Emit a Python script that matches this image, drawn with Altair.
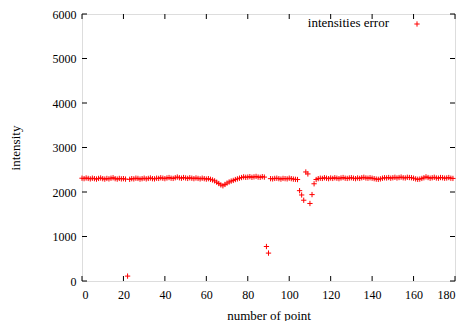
import altair as alt
import pandas as pd

# number of point 0..179 and the intensity
intensity = [
    2310, 2300, 2315, 2305, 2295, 2310, 2300, 2290, 2305, 2315,
    2300, 2290, 2305, 2295, 2310, 2320, 2300, 2290, 2305, 2295,
    2300, 2290, 110, 2285, 2300, 2295, 2310, 2305, 2290, 2300,
    2310, 2295, 2305, 2315, 2300, 2295, 2310, 2305, 2320, 2310,
    2300, 2315, 2325, 2310, 2305, 2320, 2335, 2320, 2310, 2325,
    2315, 2305, 2320, 2310, 2300, 2315, 2305, 2295, 2310, 2300,
    2290, 2300, 2285, 2270, 2250, 2220, 2190, 2160, 2140, 2170,
    2200, 2225, 2245, 2260, 2280, 2295, 2310, 2325, 2340, 2330,
    2335, 2345, 2330, 2340, 2350, 2335, 2330, 2345, 2335, 775,
    627, 2300, 2295, 2305, 2310, 2300, 2290, 2305, 2300, 2295,
    2310, 2300, 2290, 2285, 2280, 2030, 1933, 1815, 2450, 2406,
    1742, 1942, 2185, 2280, 2300, 2310, 2305, 2320, 2310, 2300,
    2315, 2305, 2320, 2310, 2300, 2315, 2325, 2310, 2305, 2315,
    2320, 2310, 2300, 2315, 2305, 2320, 2330, 2315, 2310, 2320,
    2310, 2300, 2290, 2285, 2295, 2310, 2320, 2315, 2325, 2310,
    2320, 2330, 2315, 2325, 2335, 2320, 2315, 2330, 2325, 2320,
    2310, 2295, 2285, 2290, 2305, 2320, 2340, 2325, 2310, 2320,
    2330, 2315, 2310, 2325, 2320, 2310, 2315, 2325, 2310, 2305,
]
points_x = list(range(len(intensity)))
x_ticks = [0, 20, 40, 60, 80, 100, 120, 140, 160, 180]
y_ticks = [0, 1000, 2000, 3000, 4000, 5000, 6000]
legend_label = ["intensities error"]

W, H = 373, 267
TICK = 5
FONT = "Liberation Serif"
PLUS = "M-1,0L1,0M0,-1L0,1"

df = pd.DataFrame({"point": points_x, "intensity": intensity})
xt = pd.DataFrame({"v": x_ticks})
yt = pd.DataFrame({"v": y_ticks})
lg = pd.DataFrame({"label": legend_label})

xscale = alt.Scale(domain=[0, 180], nice=False, zero=False)
yscale = alt.Scale(domain=[0, 6000], nice=False)

pts = alt.Chart(df).mark_point(
    shape=PLUS, filled=False, color="#ff0000", size=28, strokeWidth=1, opacity=1
).encode(
    x=alt.X("point:Q", scale=xscale,
            axis=alt.Axis(values=x_ticks, ticks=False, domain=False, grid=False, format="d",
                          title="number of point", labelPadding=8, titlePadding=9,
                          labelFontSize=12, titleFontSize=13, labelFont=FONT, titleFont=FONT,
                          labelColor="#000", titleColor="#000", titleFontWeight="normal")),
    y=alt.Y("intensity:Q", scale=yscale,
            axis=alt.Axis(values=y_ticks, ticks=False, domain=False, grid=False, format="d",
                          title="intensity", labelPadding=6, titlePadding=30,
                          labelFontSize=12, titleFontSize=13, labelFont=FONT, titleFont=FONT,
                          labelColor="#000", titleColor="#000", titleFontWeight="normal")),
)

tick_bottom = alt.Chart(xt).mark_rule(color="black", strokeWidth=1).encode(
    x=alt.X("v:Q", scale=xscale), y=alt.value(H), y2=alt.value(H - TICK))
tick_top = alt.Chart(xt).mark_rule(color="black", strokeWidth=1).encode(
    x=alt.X("v:Q", scale=xscale), y=alt.value(0), y2=alt.value(TICK))
tick_left = alt.Chart(yt).mark_rule(color="black", strokeWidth=1).encode(
    y=alt.Y("v:Q", scale=yscale), x=alt.value(0), x2=alt.value(TICK))
tick_right = alt.Chart(yt).mark_rule(color="black", strokeWidth=1).encode(
    y=alt.Y("v:Q", scale=yscale), x=alt.value(W), x2=alt.value(W - TICK))

leg_text = alt.Chart(lg).mark_text(
    align="right", baseline="middle", font=FONT, fontSize=13, color="black"
).encode(text="label:N", x=alt.value(307), y=alt.value(9))
leg_pt = alt.Chart(lg).mark_point(
    shape=PLUS, filled=False, color="#ff0000", size=28, strokeWidth=1, opacity=1
).encode(x=alt.value(335), y=alt.value(10))

chart = alt.layer(tick_bottom, tick_top, tick_left, tick_right, pts, leg_text, leg_pt).properties(
    width=W, height=H,
    autosize=alt.AutoSizeParams(type="none"),
    padding={"left": 74, "top": 6, "right": 4, "bottom": 40},
).configure_view(stroke="black", strokeWidth=1).configure(background="white")

chart.save("out.html", embed_options={"renderer": "svg", "actions": False})
